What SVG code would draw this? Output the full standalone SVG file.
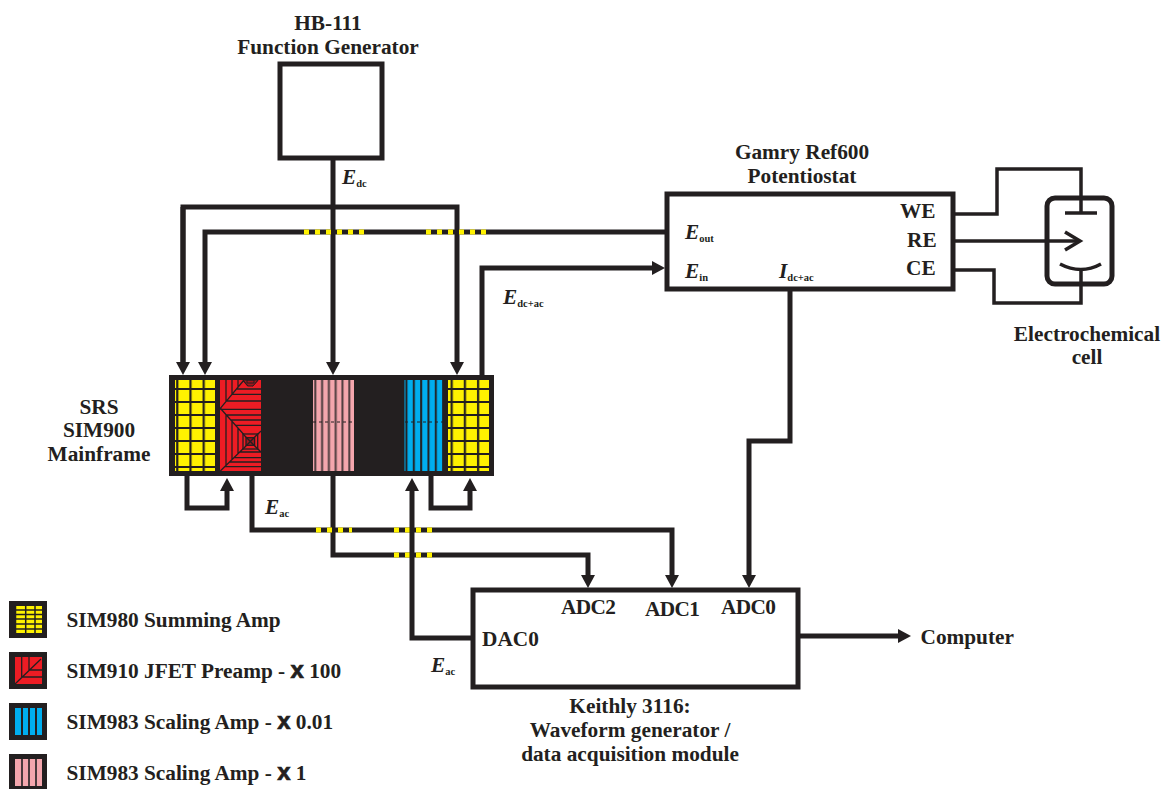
<svg xmlns="http://www.w3.org/2000/svg" width="1162" height="789" viewBox="0 0 1162 789">
<style>
text{font-family:"Liberation Serif","Times New Roman",serif;font-weight:bold;fill:#231f20;font-size:21.3px}
.m{text-anchor:middle}
.i{font-style:italic}
.sub{font-size:10.5px;font-style:normal}
.x{font-family:"Liberation Sans",Arial,sans-serif;font-size:24px;stroke:#231f20;stroke-width:.7}
.box{fill:#fff;stroke:#231f20;stroke-width:5}
.w{fill:none;stroke:#231f20;stroke-width:5}
.t{fill:none;stroke:#231f20;stroke-width:3.5}
.d{fill:none;stroke:#fff200;stroke-width:5;stroke-dasharray:5 6}
.r{fill:none;stroke:#231f20;stroke-width:1.3}
</style>
<defs>
<marker id="a" markerUnits="userSpaceOnUse" markerWidth="14" markerHeight="14" refX="6" refY="7" orient="auto"><path d="M0 0L13 7L0 14Z" fill="#231f20"/></marker>
<pattern id="yg" patternUnits="userSpaceOnUse" x="173.3" y="382" width="13.2" height="13"><rect width="13.2" height="13" fill="#fff200"/><path d="M4 0V13M0 7H13.2" stroke="#231f20" stroke-width="2.2"/></pattern>
<pattern id="yg2" patternUnits="userSpaceOnUse" x="447.7" y="382" width="13.2" height="13"><rect width="13.2" height="13" fill="#fff200"/><path d="M4 0V13M0 7H13.2" stroke="#231f20" stroke-width="2.2"/></pattern>
<pattern id="bl" patternUnits="userSpaceOnUse" x="404.5" y="380" width="7.33" height="91"><rect width="7.33" height="91" fill="#00aeef"/><path d="M2 0V91" stroke="#231f20" stroke-width="2"/></pattern>
<pattern id="pk" patternUnits="userSpaceOnUse" x="313" y="380" width="6.8" height="91"><rect width="6.8" height="91" fill="#f4a6ad"/><path d="M2.3 0V91" stroke="#4a3a3c" stroke-width="2"/></pattern>
</defs>

<g id="connectors">
<path class="w" d="M333 158V368" marker-end="url(#a)"/>
<path class="w" d="M183 368V207H457V368" marker-end="url(#a)"/>
<path class="w" d="M183 207V368" marker-end="url(#a)"/>
<path class="w" d="M665 232H205V368" marker-end="url(#a)"/>
<path class="d" d="M304 232H364M426 232H486"/>
<path class="w" d="M482 375V268H658" marker-end="url(#a)"/>
<path class="w" d="M790 290V441H749V581" marker-end="url(#a)"/>
<path class="w" d="M187 476V508H227V485" marker-end="url(#a)"/>
<path class="w" d="M431 476V508H470V485" marker-end="url(#a)"/>
<path class="w" d="M252 476V530H672V581" marker-end="url(#a)"/>
<path class="w" d="M333 476V555H588V581" marker-end="url(#a)"/>
<path class="d" d="M316 530H352M394 530H438M394 555H437"/>
<path class="w" d="M472 638H412V485" marker-end="url(#a)"/>
<path class="w" d="M799 636H904" marker-end="url(#a)"/>
<path class="t" d="M750 214H997V169H1081V214"/>
<path class="t" d="M750 241H1080"/>
<path class="t" d="M750 270H994V303H1081V270"/>
</g>

<g id="fg"><rect class="box" x="280" y="64" width="102" height="94"/></g>
<g id="potentiostat"><rect class="box" x="667" y="194" width="286" height="95"/></g>
<g id="daq"><rect class="box" x="473" y="590" width="325" height="97"/></g>

<g id="cell">
<rect x="1047" y="198" width="65" height="86" rx="8" fill="none" stroke="#231f20" stroke-width="5"/>
<path d="M1065 213H1097" fill="none" stroke="#231f20" stroke-width="3.5"/>
<path d="M1065 232L1080 241L1065 250" fill="none" stroke="#231f20" stroke-width="3.5"/>
<path d="M1060 264Q1081 275 1101 264" fill="none" stroke="#231f20" stroke-width="3.5"/>
</g>

<g id="mainframe">
<rect x="169" y="375" width="325" height="101" fill="#231f20"/>
<rect x="175" y="380" width="40" height="91" fill="url(#yg)"/>
<rect x="448" y="380" width="41" height="91" fill="url(#yg2)"/>
<rect x="220" y="380" width="41" height="91" fill="#ed1c24"/>
<path class="r" d="M220.3 408.3L244 380M226 380V401M232 380V394.3M238 380V387M226.4 401H261M232 394.3H261M236.6 389H261M220.3 409.3H261M258 380L252 386M243 380L248 386"/>
<path d="M243 380H258L253 386H248ZM247 380H254V383H247Z" fill="#a3161c" stroke="#231f20" stroke-width="1"/>
<path class="r" d="M220.3 408.3L250.3 441.7L220.3 471M250.3 441.7L261 431M250.3 441.7L261 452M226.2 415H261M230.7 420H261M235.4 425.3H261M226 415V465.5M232 422V459M238 428.5V453.5M239.6 452H261M233.7 457.7H261M229.3 462H261M224.5 466.7H261"/>
<rect x="243" y="434" width="14.7" height="15" fill="#ed1c24" stroke="#231f20" stroke-width="1.3"/>
<rect x="246" y="437.7" width="8.6" height="7.6" fill="#a3161c" stroke="#231f20" stroke-width="1.3"/>
<path class="r" d="M243 434L257.7 449M257.7 434L243 449"/>
<rect x="313" y="380" width="41" height="91" fill="url(#pk)"/>
<rect x="404.5" y="380" width="38.5" height="91" fill="url(#bl)"/>
<path d="M313 422H354M405 422H443" stroke="#231f20" stroke-width="1" stroke-dasharray="3 3"/>
</g>

<g id="legend">
<rect x="9" y="601" width="38" height="37" fill="#231f20"/><rect x="15" y="606" width="27" height="27" fill="#fff200"/><path d="M15.5 606V633M25.7 606V633M35 606V633M15 610H42M15 614.4H42M15 619H42M15 624H42M15 629H42" stroke="#231f20" stroke-width="1.5" fill="none"/>
<rect x="9" y="652" width="38" height="37" fill="#231f20"/><rect x="15" y="657" width="27" height="27" fill="#ed1c24"/><path class="r" d="M15 684L41 659M21.7 657V677M29 657V670M29 670H42M22 677H42"/>
<rect x="9" y="703" width="38" height="37" fill="#231f20"/><rect x="15" y="708" width="27" height="27" fill="#00aeef"/><path d="M22 708V735M29 708V735M36 708V735" stroke="#231f20" stroke-width="2"/>
<rect x="9" y="754" width="38" height="36" fill="#231f20"/><rect x="15" y="759" width="27" height="27" fill="#f4a6ad"/><path d="M22 759V786M29 759V786M36 759V786" stroke="#4a3a3c" stroke-width="2"/>
<text x="66.5" y="627">SIM980 Summing Amp</text>
<text x="66.5" y="678">SIM910 JFET Preamp - <tspan class="x">x</tspan> 100</text>
<text x="66.5" y="729">SIM983 Scaling Amp - <tspan class="x">x</tspan> 0.01</text>
<text x="66.5" y="780">SIM983 Scaling Amp - <tspan class="x">x</tspan> 1</text>
</g>

<g id="labels">
<text class="m" x="328" y="30">HB-111</text>
<text class="m" x="328" y="54">Function Generator</text>
<text class="m" x="802" y="159">Gamry Ref600</text>
<text class="m" x="802" y="183">Potentiostat</text>
<text class="m" x="1087" y="341">Electrochemical</text>
<text class="m" x="1087" y="364">cell</text>
<text class="m" x="99" y="414">SRS</text>
<text class="m" x="99" y="437">SIM900</text>
<text class="m" x="99" y="461">Mainframe</text>
<text class="m" x="630" y="713">Keithly 3116:</text>
<text class="m" x="630" y="737">Waveform generator /</text>
<text class="m" x="630" y="761">data acquisition module</text>
<text x="920.5" y="644">Computer</text>
<text x="561" y="614" textLength="55">ADC2</text>
<text x="645" y="616" textLength="55">ADC1</text>
<text x="721" y="614" textLength="55">ADC0</text>
<text x="482" y="646">DAC0</text>
<text x="900" y="218">WE</text>
<text x="907" y="247">RE</text>
<text x="906" y="275">CE</text>
<text class="i" x="342" y="184">E<tspan class="sub" dy="3">dc</tspan></text>
<text class="i" x="685" y="239">E<tspan class="sub" dy="3">out</tspan></text>
<text class="i" x="685" y="278">E<tspan class="sub" dy="3">in</tspan></text>
<text class="i" x="779" y="278">I<tspan class="sub" dy="3">dc+ac</tspan></text>
<text class="i" x="503" y="304">E<tspan class="sub" dy="3">dc+ac</tspan></text>
<text class="i" x="265" y="514">E<tspan class="sub" dy="3">ac</tspan></text>
<text class="i" x="431" y="672">E<tspan class="sub" dy="3">ac</tspan></text>
</g>
</svg>
